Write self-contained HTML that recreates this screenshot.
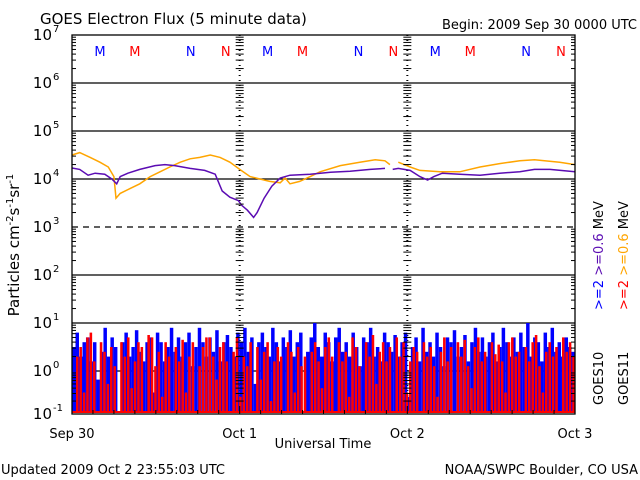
<!DOCTYPE html>
<html><head><meta charset="utf-8"><style>
body{margin:0;background:#fff;}
svg{display:block;font-family:"DejaVu Sans","Liberation Sans",sans-serif;}
</style></head><body>
<svg id="chart" width="640" height="480" viewBox="0 0 640 480">
<rect width="640" height="480" fill="#fff"/>
<text x="40" y="24" font-size="15" fill="#000">GOES Electron Flux (5 minute data)</text>
<text x="637" y="29" font-size="13" text-anchor="end" fill="#000">Begin: 2009 Sep 30 0000 UTC</text>
<g id="grid"></g>
<g id="bars"></g>
<g id="lines"></g>
<g id="axes"></g>
<text transform="translate(19,245) rotate(-90)" font-size="15" text-anchor="middle">Particles cm<tspan dy="-6" font-size="10">-2</tspan><tspan dy="6">s</tspan><tspan dy="-6" font-size="10">-1</tspan><tspan dy="6">sr</tspan><tspan dy="-6" font-size="10">-1</tspan></text>
<text x="323" y="448" font-size="13" text-anchor="middle">Universal Time</text>
<text x="1" y="474" font-size="13">Updated 2009 Oct  2 23:55:03 UTC</text>
<text x="638" y="474" font-size="13" text-anchor="end">NOAA/SWPC Boulder, CO USA</text>
<g font-size="13">
<text transform="translate(603,405) rotate(-90)"><tspan>GOES10</tspan></text>
<text transform="translate(603,310) rotate(-90)"><tspan fill="#0000ff">&gt;=2 </tspan><tspan fill="#5b0cb3">&gt;=0.6 </tspan><tspan fill="#000"> MeV</tspan></text>
</g>
<g font-size="13">
<text transform="translate(628,405) rotate(-90)"><tspan>GOES11</tspan></text>
<text transform="translate(628,310) rotate(-90)"><tspan fill="#ff0000">&gt;=2 </tspan><tspan fill="#ffa500">&gt;=0.6 </tspan><tspan fill="#000"> MeV</tspan></text>
</g>
</svg>
<script>
// upper panel series: hours from start (0-72), log10 flux
const purpleHours=[0,1.1,2.3,3.3,4.7,5.7,6.4,6.9,8.0,9.7,11.9,13.3,14.7,16.9,19.0,20.5,21.5,22.6,23.8,24.3,25.1,26.0,26.5,27.5,28.6,29.8,31.2,34.1,37.0,39.8,42.7,44.8,45.9,46.7,48.4,49.8,50.9,51.8,53.0,55.5,58.4,61.2,64.1,66.2,68.4,72];
const purpleLog=[4.23,4.20,4.08,4.12,4.10,4.0,3.9,4.05,4.12,4.2,4.28,4.3,4.28,4.22,4.18,4.10,3.75,3.62,3.55,3.45,3.35,3.2,3.3,3.6,3.85,4.02,4.08,4.1,4.14,4.16,4.2,4.22,4.2,4.22,4.18,4.05,3.98,4.05,4.12,4.10,4.08,4.12,4.15,4.2,4.2,4.15];
const orangeHours=[0,1.1,2.6,4.0,5.2,6.0,6.3,6.9,8.3,9.7,11.2,12.6,14.0,15.5,16.9,18.3,19.8,21.2,22.6,24.0,25.5,26.9,28.3,29.8,30.5,31.2,32.6,34.1,35.5,38.4,41.2,43.4,44.8,45.5,46.7,48.4,49.8,52.7,55.5,58.4,61.2,64.1,66.2,69.8,72];
const orangeLog=[4.5,4.55,4.45,4.35,4.25,4.05,3.6,3.7,3.8,3.9,4.05,4.15,4.25,4.35,4.42,4.45,4.5,4.45,4.35,4.2,4.05,4.0,3.95,3.92,4.02,3.9,3.95,4.05,4.15,4.28,4.35,4.4,4.38,4.3,4.35,4.25,4.18,4.15,4.15,4.25,4.32,4.38,4.4,4.35,4.3];
const orangeGaps=[45.5];
const purpleGaps=[44.8];
// lower panel bars: log10 flux, evenly spaced (half-hourly) over 72 h
const blueLog=[0.5,0.8,0.3,0.6,0.7,0.2,0.6,-0.2,0.4,0.9,0.3,0.7,0.5,-1,0.6,0.8,0.3,0.5,0.85,0.4,0.2,0.6,0.7,-0.5,0.8,0.6,0.2,0.5,0.9,0.4,0.7,0.3,0.6,0.8,0.1,0.5,0.9,0.6,0.3,0.7,0.4,0.85,0.2,0.6,0.75,0.5,0.3,0.8,0.6,0.9,0.4,0.7,-0.3,0.6,0.8,0.5,0.3,0.9,0.6,0.2,0.7,0.5,0.85,0.3,0.6,0.8,-1,0.4,0.7,1.0,0.5,0.3,0.8,0.6,0.2,0.7,0.9,0.4,0.6,0.3,0.8,0.5,0.1,0.7,0.6,0.9,0.3,0.5,0.2,0.8,0.6,0.4,0.75,0.3,0.6,0.8,-0.6,0.5,0.7,0.2,0.9,0.4,0.6,0.3,0.8,0.5,0.1,0.7,0.6,0.85,0.3,0.5,0.75,0.2,0.6,0.9,0.4,0.7,0.3,0.6,0.8,0.2,0.5,0.9,0.6,0.3,0.7,0.4,0.8,0.5,1.0,0.3,0.7,0.6,0.2,0.8,0.5,0.9,0.4,0.6,0.3,0.7,0.5,0.4];
const redLog=[-1,0.3,0.5,-0.5,0.7,0.8,0.2,-1,0.6,0.4,-0.3,0.5,0.1,-1,0.6,0.3,0.7,-0.4,0.2,0.6,0.5,-1,0.75,0.7,0.1,0.4,-0.6,0.6,0.3,-1,0.5,0.2,0.65,-0.5,0.3,0.6,-1,0.1,0.5,0.7,0.7,0.3,-0.2,0.5,0.6,0.2,-1,0.4,0.7,-0.6,0.3,0.1,0.6,-1,0.5,-0.2,0.4,0.6,-0.7,0.2,0.5,0.3,-1,0.6,0.4,-0.5,0.5,0.1,0.3,-1,0.4,0.6,0.2,-0.4,0.5,0.7,0.3,-1,0.6,0.2,0.4,-0.6,0.7,0.5,0.1,-1,0.6,0.3,0.75,-0.3,0.4,0.6,0.2,0.5,-1,0.7,0.3,0.6,-0.5,0.2,0.5,0.4,-1,0.6,0.3,0.5,0.1,-0.6,0.4,0.7,0.2,0.5,-1,0.6,0.3,0.65,0.1,-0.4,0.5,0.7,0.2,0.4,-1,0.6,0.35,0.55,0.2,-0.5,0.6,0.7,0.3,0.4,-1,0.5,0.2,0.6,0.75,0.1,-0.5,0.4,0.6,0.3,0.5,-1,0.7,0.4,0.6,0.3];
const dayLabels=["Sep 30","Oct 1","Oct 2","Oct 3"];
const decadeLabels=["7","6","5","4","3","2","1","0","-1"];
const markerLetters=["M","M","N","N"];
const markerHours=[4,9,17,22];

const NS="http://www.w3.org/2000/svg";
const X0=72,X1=575,Y0=35,Y1=414,HOURS=72;
function x(h){return X0+(X1-X0)*h/HOURS;}
function y(lg){return lg>=0?Y0+(7-lg)*48:371+(-lg)*43;}
function mk(tag,attrs,parent){const e=document.createElementNS(NS,tag);for(const k in attrs)e.setAttribute(k,attrs[k]);parent.appendChild(e);return e;}
const grid=document.getElementById('grid'),axes=document.getElementById('axes'),bars=document.getElementById('bars'),lines=document.getElementById('lines');

for(let d=6;d>=0;d--){
  const gl=mk('line',{x1:X0,x2:X1,y1:y(d),y2:y(d),stroke:'#000','stroke-width':1.3,'stroke-dasharray':d===3?'6,5':'none'},grid);
  
  
}
for(let i=1;i<3;i++){
  const vl=mk('line',{x1:x(i*24),x2:x(i*24),y1:Y0,y2:Y1,stroke:'#000','stroke-width':2,'stroke-dasharray':'1,4'},grid);
  
  
}

const bw=(X1-X0)/blueLog.length;
blueLog.forEach((v,i)=>{
  const top=Math.min(y(v),Y1);
  const r=mk('rect',{x:X0+i*bw,y:top,width:bw,height:Math.max(0,Y1-top-1),fill:'#0000ff'},bars);
  
  
});
const rw=(X1-X0)/redLog.length;
redLog.forEach((v,i)=>{
  const top=Math.min(y(v),Y1);
  const r=mk('rect',{x:X0+i*rw+0.6,y:top,width:rw*0.75,height:Math.max(0,Y1-top-1),fill:'#ff0000'},bars);
  
  
});
mk('rect',{x:X0,y:Y1-3,width:X1-X0,height:2,fill:'#ff0000'},bars);

function path(hrs,vals,gaps){let d='';hrs.forEach((h,i)=>{const px=x(h),py=y(vals[i]);d+=(i===0||gaps.includes(hrs[i-1])?'M':'L')+px.toFixed(1)+','+py.toFixed(1);});return d;}
const po=mk('path',{d:path(orangeHours,orangeLog,orangeGaps),fill:'none',stroke:'#ffa500','stroke-width':1.5},lines);


const pp=mk('path',{d:path(purpleHours,purpleLog,purpleGaps),fill:'none',stroke:'#5b0cb3','stroke-width':1.5},lines);



const fr=mk('rect',{x:X0,y:Y0,width:X1-X0,height:Y1-Y0,fill:'none',stroke:'#000','stroke-width':1.3},axes);


for(let d=-1;d<7;d++){for(let m=2;m<10;m++){const yy=y(d+Math.log10(m)+(d<0?0:0));const y2=d<0?371+43*(1-Math.log10(m)):yy;if(y2>Y1)continue;
  mk('line',{x1:X0,x2:X0+4,y1:y2,y2:y2,stroke:'#000'},axes);mk('line',{x1:X1-4,x2:X1,y1:y2,y2:y2,stroke:'#000'},axes);
  for(let k=1;k<3;k++){const xs=x(k*24);mk('line',{x1:xs-4,x2:xs+4,y1:y2,y2:y2,stroke:'#000'},axes);}}}
for(let h=0;h<=72;h+=3){const len=h%24===0?8:4;
  mk('line',{x1:x(h),x2:x(h),y1:Y1-len,y2:Y1,stroke:'#000'},axes);}
decadeLabels.forEach((lab,i)=>{const yy=i===8?Y1:y(7-i);
  const t=mk('text',{x:52,y:yy+5,'font-size':15,'text-anchor':'end'},axes);t.textContent='10';
  
  
  const s=mk('text',{x:53,y:yy-3,'font-size':10},axes);s.textContent=lab;});
dayLabels.forEach((lab,i)=>{const t=mk('text',{x:x(i*24),y:438,'font-size':13,'text-anchor':'middle'},axes);t.textContent=lab;
  
  });
for(let dd=0;dd<3;dd++){markerHours.forEach((h,i)=>{
  const t=mk('text',{x:x(dd*24+h),y:56,'font-size':13,'text-anchor':'middle',fill:i%2===0?'#0000ff':'#ff0000'},axes);t.textContent=markerLetters[i];
  
  });}
</script>
</body></html>
